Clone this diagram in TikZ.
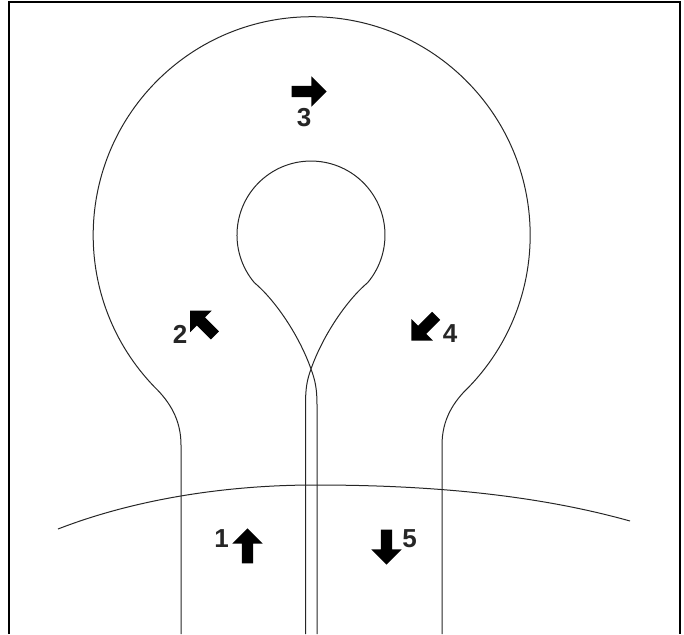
\documentclass[tikz,border=0pt]{standalone}
\usepackage{fontspec}
\setmainfont{Liberation Sans}
\usetikzlibrary{shapes.arrows}
\tikzset{
	flowarrow/.style={single arrow, fill=black, draw=none, inner xsep=0pt, inner ysep=5.5pt, minimum height=35pt,
		single arrow head extend=9.5pt, single arrow tip angle=90},
	flowlabel/.style={font=\bfseries\fontsize{26}{26}\selectfont, inner sep=0pt, text=black!85},
	thinline/.style={line width=1pt, black!85}
}
\begin{document}
\begin{tikzpicture}[x=1pt, y=1pt, yscale=-1]
\useasboundingbox (0, 0) rectangle (684, 634);

	% frame, open at the bottom
	\draw [line width=2pt] (9, 634) -- (9, 2) -- (680, 2) -- (680, 634);

	% outer wall
	\draw [thinline] (181, 634) -- (181, 445) .. controls (181, 420) and (170, 402) .. (154.5, 387)
		arc (136:404:218.5pt)
		.. controls (453, 402) and (442, 420) .. (442, 445) -- (442, 634);

	% inner wall
	\draw [thinline] (317, 634) -- (317, 405) .. controls (317, 388) and (315, 380) .. (311, 369)
		.. controls (299, 335) and (275, 300) .. (254.3, 282.6)
		arc (140:400:74pt)
		.. controls (347, 300) and (323, 335) .. (311, 369)
		.. controls (307, 380) and (305.5, 388) .. (305.5, 405) -- (305.5, 634);

	% cross line
	\draw [thinline] (58, 529) .. controls (130, 501) and (220, 485) .. (315, 485)
		.. controls (420, 485) and (530, 493) .. (630, 521);

	\node [flowarrow, rotate=90] (arrow1) at (247.5, 548.8) {};
	\node [flowarrow, rotate=135] (arrow2) at (204.6, 325.1) {};
	\node [flowarrow] (arrow3) at (306.2, 91.5) {};
	\node [flowarrow, rotate=225] (arrow4) at (425.8, 326.2) {};
	\node [flowarrow, rotate=270] (arrow5) at (386.5, 544.2) {};

	\node [flowlabel] (label1) at (221.5, 538.5) {1};
	\node [flowlabel] (label2) at (180, 334) {2};
	\node [flowlabel] (label3) at (304, 117.5) {3};
	\node [flowlabel] (label4) at (450, 334) {4};
	\node [flowlabel] (label5) at (409.5, 538.5) {5};
\end{tikzpicture}
\end{document}
